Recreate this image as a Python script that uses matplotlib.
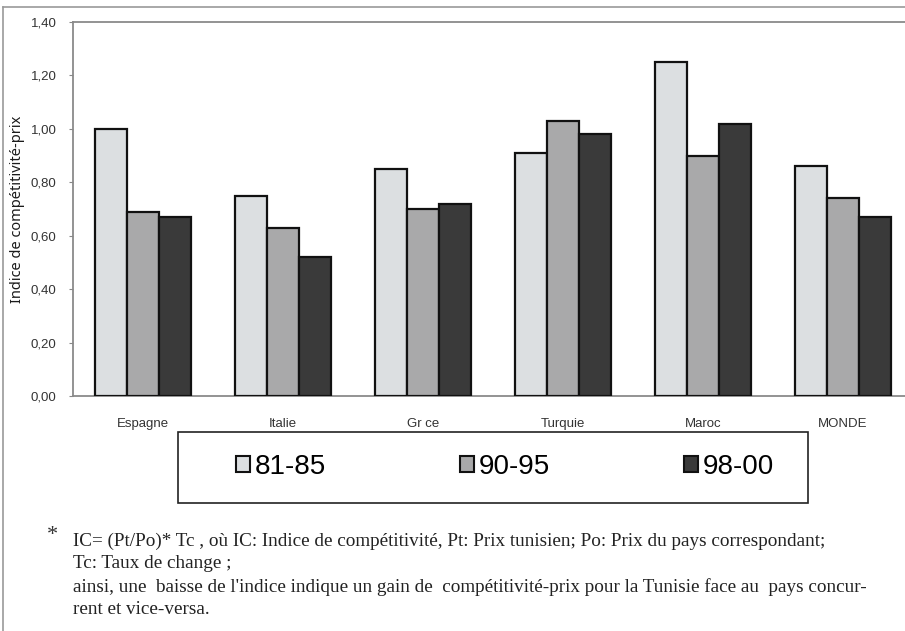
import matplotlib
matplotlib.use('Agg')
import matplotlib.pyplot as plt
import numpy as np
from matplotlib.patches import Rectangle, Patch
from matplotlib.lines import Line2D

countries = ['Espagne', 'Italie', 'Gr ce', 'Turquie', 'Maroc', 'MONDE']
periods = ['81-85', '90-95', '98-00']
ic_81_85 = [1.00, 0.75, 0.85, 0.91, 1.25, 0.86]
ic_90_95 = [0.69, 0.63, 0.70, 1.03, 0.90, 0.74]
ic_98_00 = [0.67, 0.52, 0.72, 0.98, 1.02, 0.67]
y_ticks = [0.0, 0.2, 0.4, 0.6, 0.8, 1.0, 1.2, 1.4]
y_ticklabels = ['0,00', '0,20', '0,40', '0,60', '0,80', '1,00', '1,20', '1,40']

colors = ['#dcdfe1', '#a9a9aa', '#3a3a3a']
W, H = 905, 631
fig = plt.figure(figsize=(W / 100, H / 100), dpi=100)

# page frame of the scanned document
fig.add_artist(Line2D([3 / W, 1], [1 - 7 / H, 1 - 7 / H], color='#9a9a9a', lw=1.2))
fig.add_artist(Line2D([3 / W, 3 / W], [0, 1 - 7 / H], color='#9a9a9a', lw=1.2))

ax = fig.add_axes([73 / W, 1 - 396 / H, (913 - 73) / W, (396 - 22) / H])
x = np.arange(len(countries))
bw = 0.23
series = [ic_81_85, ic_90_95, ic_98_00]
for i, vals in enumerate(series):
    ax.bar(x + (i - 1) * bw, vals, bw, color=colors[i], edgecolor='#111111',
           linewidth=1.6, zorder=3)

ax.set_xlim(-0.5, 5.5)
ax.set_ylim(0, 1.4)
ax.set_yticks(y_ticks)
ax.set_yticklabels(y_ticklabels, fontsize=9.5, family='Liberation Sans', color='#333333')
ax.set_xticks(x)
ax.set_xticklabels(countries, fontsize=9.5, family='Liberation Sans', color='#333333')
ax.tick_params(axis='x', length=0, pad=16)
ax.tick_params(axis='y', length=3, pad=9, color='#888888')
for side in ['top', 'left', 'bottom']:
    ax.spines[side].set_color('#8a8a8a')
    ax.spines[side].set_linewidth(1.3)
ax.spines['right'].set_visible(False)
ax.set_ylabel('Indice de compétitivité-prix', fontsize=10.5, family='Noto Sans',
              fontweight='bold', labelpad=4, color='#1a1a1a')

# legend box
fig.add_artist(Rectangle((178 / W, 1 - 503 / H), (808 - 178) / W, (503 - 432) / H,
                         transform=fig.transFigure, fill=False, edgecolor='#222222', lw=1.2))
handles = [Patch(facecolor=colors[i], edgecolor='#111111', linewidth=1.5) for i in range(3)]
fig.legend(handles, periods, loc='center', bbox_to_anchor=(505 / W, 1 - 467 / H),
           ncol=3, frameon=False, prop={'family': 'Liberation Sans', 'size': 20},
           handlelength=0.5, handleheight=0.5, handletextpad=0.15, columnspacing=4.85)

# footnote
serif = 'Liberation Serif'
fig.text(47 / W, 1 - 536 / H, '*', fontsize=16, family=serif, va='center', color='#333333')
lines = ["IC= (Pt/Po)* Tc , où IC: Indice de compétitivité, Pt: Prix tunisien; Po: Prix du pays correspondant;",
         "Tc: Taux de change ;",
         "ainsi, une  baisse de l'indice indique un gain de  compétitivité-prix pour la Tunisie face au  pays concur-",
         "rent et vice-versa."]
ys = [541, 564, 587, 610]
for line, yy in zip(lines, ys):
    fig.text(73 / W, 1 - yy / H, line, fontsize=13.8, family=serif, va='center', color='#222222')

fig.savefig('out.png', dpi=100)
